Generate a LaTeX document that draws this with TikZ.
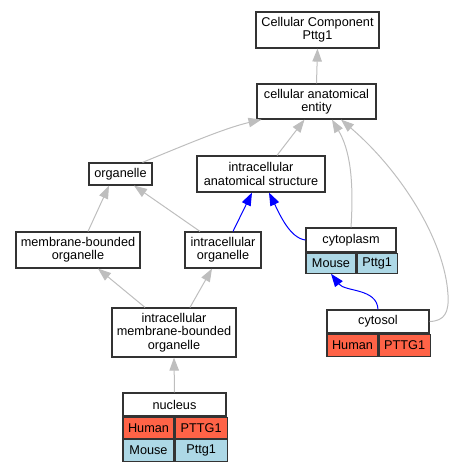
\documentclass[tikz,border=0pt]{standalone}
\usepackage{fontspec}
\setmainfont{Liberation Sans}
\usetikzlibrary{arrows.meta}
\definecolor{human}{HTML}{FF6347}
\definecolor{mouse}{HTML}{ADD8E6}
\definecolor{edgegray}{HTML}{BEBEBE}
\tikzset{
  term/.style={draw=black!80, line width=1.2pt, fill=white, inner sep=0pt, align=center, font=\fontsize{12.7}{13.4}\selectfont},
  cell/.style={term, anchor=north west},
  isa/.style={draw=edgegray, line width=1pt, -{Triangle[length=13pt,width=9.5pt]}},
  partof/.style={isa, draw=blue},
}
\begin{document}
\begin{tikzpicture}[x=1pt,y=-1pt]
    \useasboundingbox (0,0) rectangle (456,469);
    % terms
    \node[term, minimum width=123, minimum height=36] (cc) at (317.5,30) {Cellular Component\\Pttg1};
    \node[term, minimum width=119, minimum height=35] (cae) at (316.5,101.5) {cellular anatomical\\entity};
    \node[term, minimum width=128, minimum height=36] (ias) at (261,174) {intracellular\\anatomical structure};
    \node[term, minimum width=63, minimum height=22] (org) at (120.5,174) {organelle};
    \node[term, minimum width=124, minimum height=36] (mbo) at (78,250) {membrane-bounded\\organelle};
    \node[term, minimum width=76, minimum height=36] (io) at (223,250) {intracellular\\organelle};
    \node[term, minimum width=124, minimum height=49] (imbo) at (174,332.5) {intracellular\\membrane-bounded\\organelle};
    % cytoplasm with its gene row
    \node[term, minimum width=90, minimum height=24] (cyto) at (351,240) {cytoplasm};
    \node[cell, fill=mouse, minimum width=50, minimum height=20] (cymouse) at (cyto.south west) {Mouse};
    \node[cell, fill=mouse, minimum width=40, minimum height=20] (cypttg) at (cymouse.north east) {Pttg1};
    % cytosol
    \node[term, minimum width=102, minimum height=23] (cytosol) at (378,321.5) {cytosol};
    \node[cell, fill=human, minimum width=51, minimum height=22] (csohuman) at (cytosol.south west) {Human};
    \node[cell, fill=human, minimum width=51, minimum height=22] (csopttg) at (csohuman.north east) {PTTG1};
    % nucleus, two rows
    \node[term, minimum width=103, minimum height=23] (nuc) at (174.5,404.5) {nucleus};
    \node[cell, fill=human, minimum width=51, minimum height=21] (nuchuman) at (nuc.south west) {Human};
    \node[cell, fill=human, minimum width=52, minimum height=21] (nucpttg) at (nuchuman.north east) {PTTG1};
    \node[cell, fill=mouse, minimum width=51, minimum height=22] (nucmouse) at (nuchuman.south west) {Mouse};
    \node[cell, fill=mouse, minimum width=52, minimum height=22] (nucpttgm) at (nucmouse.north east) {Pttg1};
    % is_a edges
    \draw[isa] (cae.north) -- (cc.south);
    \draw[isa] ([xshift=22]org.north) .. controls (185,145) and (225,128) .. ([xshift=-55]cae.south);
    \draw[isa] ([xshift=16]ias.north) -- ([xshift=-12]cae.south);
    \draw[isa] (cyto.north) .. controls (354,180) and (350,150) .. ([xshift=15.5]cae.south);
    \draw[isa] (cytosol.east) .. controls (445,321) and (449,312) .. (448,295) .. controls (445,240) and (400,170) .. ([xshift=24.5]cae.south);
    \draw[isa] ([xshift=10]mbo.north) -- ([xshift=-11.5]org.south);
    \draw[isa] ([xshift=-23]io.north) -- ([xshift=13.5]org.south);
    \draw[isa] ([xshift=-29]imbo.north) -- ([xshift=20]mbo.south);
    \draw[isa] ([xshift=16]imbo.north) -- ([xshift=-11]io.south);
    \draw[isa] (nuc.north) -- (imbo.south);
    % part_of edges
    \draw[partof] ([xshift=10]io.north) -- ([xshift=-9]ias.south);
    \draw[partof] (cyto.west) .. controls (290,238) and (280,215) .. ([xshift=8]ias.south);
    \draw[partof] (cytosol.north) .. controls (377,288) and (345,292) .. (cymouse.south);
\end{tikzpicture}
\end{document}
